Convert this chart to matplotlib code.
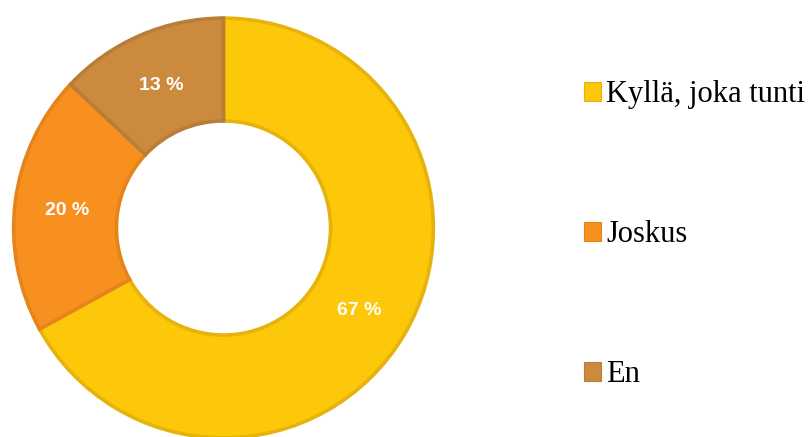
import matplotlib
matplotlib.use('Agg')
import matplotlib.pyplot as plt

labels = ['Kyllä, joka tunti', 'Joskus', 'En']
values = [67, 20, 13]
fill_colors = ['#FDC70A', '#F7901E', '#CB8A3E']
edge_colors = ['#E6B30C', '#E5841A', '#B97D3A']

fig = plt.figure(figsize=(8.11, 4.37), dpi=100)
fig.set_facecolor('#ffffff')

# donut axes: center ~(223, 228) px, radius ~212 px
W, H = 811, 437
cx, cy, r = 223.5, 228, 212
ax = fig.add_axes([(cx - r) / W, (H - cy - r) / H, 2 * r / W, 2 * r / H])

wedges, texts, autotexts = ax.pie(
    values, colors=fill_colors, startangle=90, counterclock=False, radius=0.99,
    wedgeprops=dict(width=0.485, linewidth=2.6),
    autopct=lambda p: '%d %%' % round(p), pctdistance=0.752,
    textprops=dict(color='white', fontsize=14, fontweight='bold', family='Liberation Sans'))
for w, ec in zip(wedges, edge_colors):
    w.set_edgecolor(ec)
for t in autotexts:
    t.set_verticalalignment('center_baseline')
ax.set_xlim(-1, 1)
ax.set_ylim(-1, 1)
ax.set_aspect('equal')
ax.axis('off')

leg = fig.legend(wedges, labels, loc='upper left', bbox_to_anchor=(584 / W, 1 - 80 / H),
                 frameon=False, prop=dict(family='Liberation Serif', size=22),
                 handlelength=0.56, handleheight=0.56, handletextpad=0.16,
                 labelspacing=3.64, borderpad=0, borderaxespad=0)
for h in leg.legend_handles:
    h.set_linewidth(0.8)

fig.savefig('out.png', dpi=100)
